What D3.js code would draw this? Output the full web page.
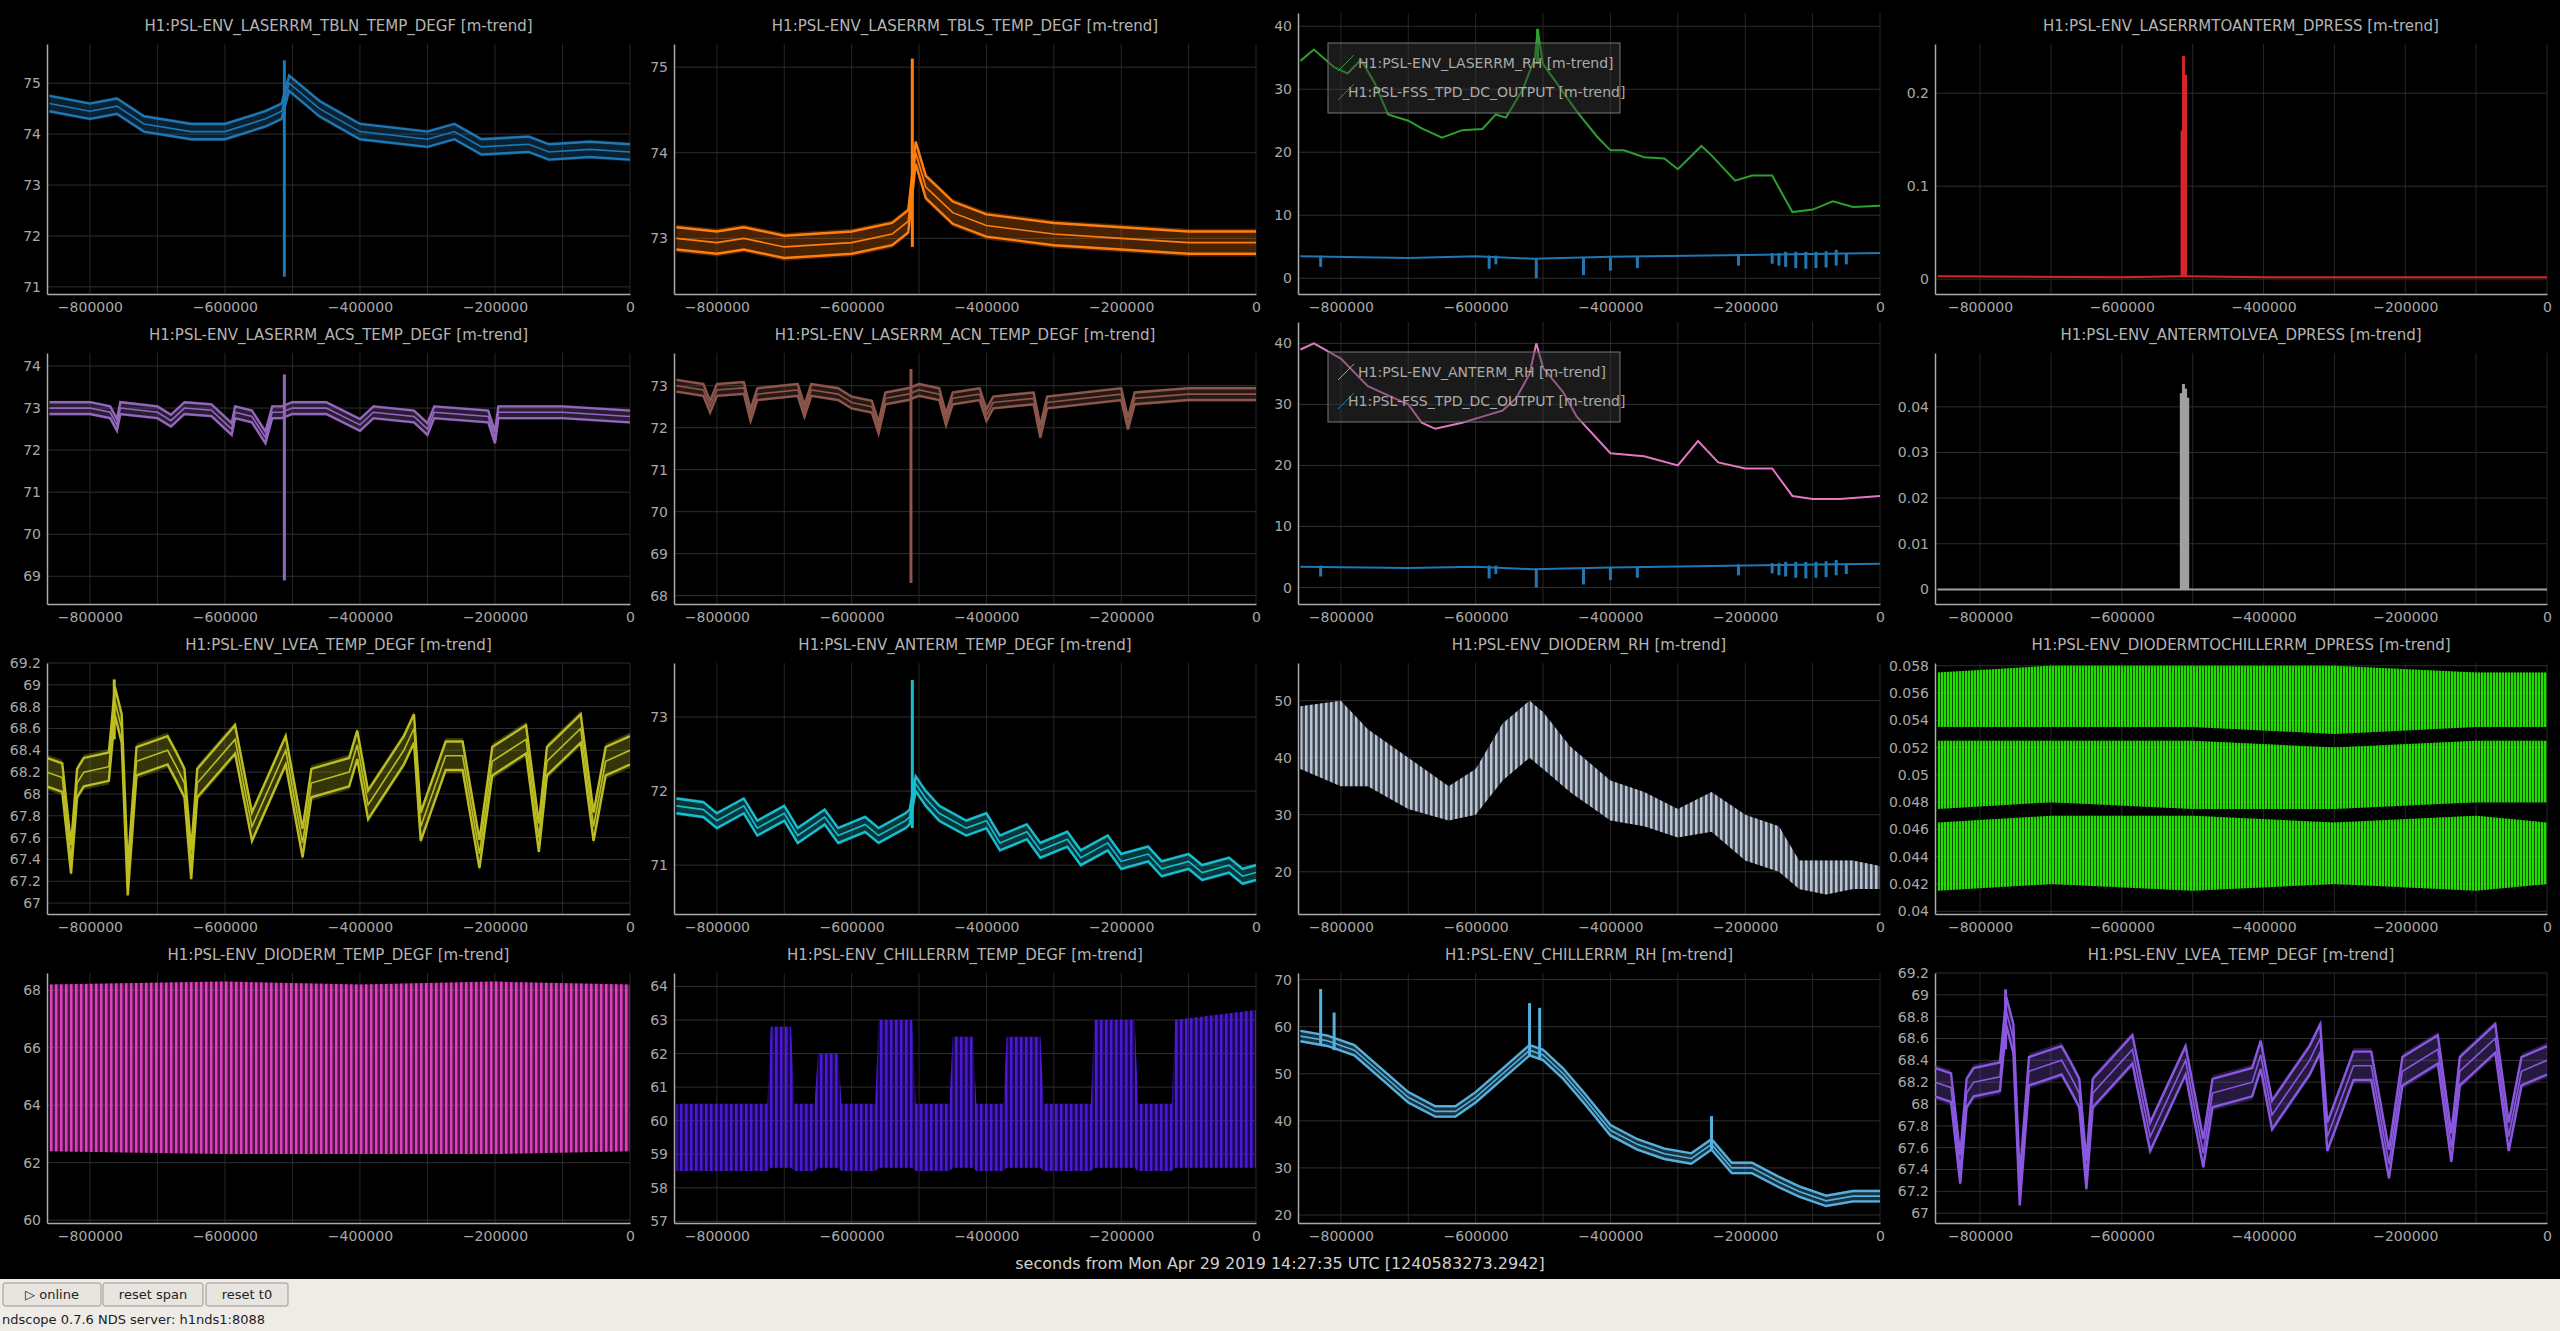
<!DOCTYPE html>
<html><head><meta charset="utf-8">
<script src="https://cdn.jsdelivr.net/npm/d3@7"></script>
<style>
body{margin:0;background:#000;overflow:hidden;font-family:"DejaVu Sans",sans-serif}
</style></head><body>
<svg id="c" width="2560" height="1331"></svg>
<script>
// ---------- DATA (x in seconds/1000) ----------
const tblnX=[-860,-800,-760,-720,-650,-600,-540,-516,-505,-460,-400,-300,-260,-220,-150,-120,-60,0];
const tblnMean=[74.6,74.45,74.55,74.2,74.05,74.05,74.3,74.45,75.0,74.5,74.05,73.9,74.05,73.75,73.8,73.65,73.7,73.65];
const tblnSpikes=[[-512,71.2,75.45]];
const tblsX=[-860,-800,-760,-700,-600,-540,-516,-505,-490,-450,-400,-300,-200,-100,0];
const tblsMean=[73.0,72.95,73.0,72.9,72.95,73.05,73.2,74.0,73.6,73.3,73.15,73.05,73.0,72.95,72.95];
const tblsSpikes=[[-510,72.9,75.1]];
const lrhX=[-860,-840,-810,-790,-770,-750,-730,-700,-680,-650,-620,-590,-570,-555,-530,-512,-508,-500,-480,-450,-420,-400,-380,-350,-320,-300,-265,-250,-215,-190,-160,-130,-100,-70,-40,0];
const lrhMean=[34.5,36.3,33.5,32.5,34.7,31,26,25,23.8,22.3,23.5,23.7,26,25.5,30,35,39.5,34,31,26.5,22.5,20.3,20.3,19.2,19,17.3,21,19.5,15.5,16.3,16.3,10.5,10.9,12.2,11.3,11.5];
const lrhSpikes=[[-508,34,39.6]];
const tpdX=[-860,-700,-600,-515,-400,-200,0];
const tpdMean=[3.5,3.2,3.5,3.1,3.4,3.7,4.0];
const tpdSpikes=[[-830,1.8,3.6],[-580,1.5,3.6],[-570,2.2,3.6],[-510,0,3.1],[-440,0.5,3.2],[-400,1.2,3.3],[-360,1.6,3.5],[-210,2,3.8],[-160,2.3,4],[-150,2,4],[-140,1.8,4.2],[-125,1.6,4.2],[-110,1.5,4.2],[-95,1.6,4.2],[-80,1.7,4.3],[-65,2,4.5],[-50,2.2,4]];
const l2aX=[-860,-600,-516,-508,-400,-200,0];
const l2aMean=[0.003,0.002,0.003,0.003,0.002,0.002,0.002];
const l2aSpikes=[[-513,0.003,0.24],[-510,0.003,0.22],[-515,0.003,0.16]];
const acsX=[-860,-800,-770,-760,-755,-700,-680,-660,-620,-590,-585,-560,-540,-530,-516,-500,-450,-400,-380,-320,-300,-290,-210,-200,-195,-100,0];
const acsMean=[73.0,73.0,72.9,72.6,73.0,72.9,72.7,73.0,72.95,72.5,72.9,72.8,72.3,72.9,72.9,73.0,73.0,72.6,72.9,72.8,72.5,72.9,72.8,72.3,72.9,72.9,72.8];
const acsSpikes=[[-512,68.9,73.8]];
const acnX=[-860,-820,-810,-800,-760,-750,-740,-680,-670,-660,-620,-600,-570,-560,-550,-516,-500,-470,-460,-450,-410,-400,-390,-330,-320,-310,-200,-190,-180,-100,0];
const acnMean=[73.0,72.9,72.5,72.9,72.95,72.3,72.8,72.9,72.4,72.9,72.8,72.6,72.5,72.0,72.7,72.8,72.9,72.8,72.2,72.7,72.8,72.3,72.6,72.7,71.9,72.6,72.8,72.1,72.7,72.8,72.8];
const acnSpikes=[[-512,68.3,73.4]];
const arhX=[-860,-840,-800,-760,-720,-700,-680,-660,-620,-590,-560,-540,-520,-510,-500,-470,-450,-400,-350,-300,-270,-240,-200,-160,-130,-100,-60,0];
const arhMean=[39,40,37.5,33,31,30,27,26,27,28,29,31,35,40,36,32,28,22,21.5,20,24,20.5,19.5,19.5,15,14.5,14.5,15];
const tpd2Mean=[3.4,3.2,3.4,3.0,3.3,3.6,3.9];
const a2lX=[-860,-600,-518,-506,-400,0];
const a2lMean=[0,0,0,0,0,0];
const a2lSpikes=[[-516,0,0.043],[-513,0,0.045],[-510,0,0.044],[-507,0,0.042]];
const lveaX=[-864,-841,-828,-819,-809,-772,-763,-753,-744,-731,-685,-672,-660,-650,-641,-585,-560,-510,-485,-472,-416,-404,-388,-335,-320,-310,-273,-248,-223,-204,-154,-135,-123,-73,-54,-36,0];
const lveaMean=[68.2,68.15,67.4,68.1,68.2,68.25,68.85,68.6,67.2,68.3,68.4,68.25,68.1,67.35,68.1,68.5,67.7,68.4,67.55,68.1,68.2,68.45,67.9,68.4,68.6,67.7,68.35,68.35,67.45,68.3,68.5,67.6,68.3,68.6,67.7,68.3,68.4];
const lveaSpikes=[[-764,68.5,69.05]];
const antX=[-860,-820,-800,-760,-740,-700,-680,-640,-620,-580,-560,-520,-514,-505,-490,-470,-430,-400,-380,-340,-320,-280,-260,-220,-200,-160,-140,-100,-80,-40,-20,0];
const antMean=[71.8,71.75,71.6,71.8,71.5,71.7,71.4,71.65,71.4,71.55,71.4,71.6,71.65,72.1,71.9,71.7,71.5,71.6,71.3,71.45,71.2,71.35,71.1,71.3,71.05,71.15,70.95,71.05,70.9,71.0,70.85,70.9];
const antSpikes=[[-510,71.5,73.5]];
const drhX=[-860,-800,-760,-700,-640,-600,-560,-520,-500,-460,-400,-350,-300,-250,-200,-150,-120,-80,-40,0];
const drhLo=[38,35,35,31,29,30,36,40,38,34,29,28,26,27,22,20,17,16,17,17];
const drhHi=[49,50,45,40,35,38,46,50,48,42,36,34,31,34,30,28,22,22,22,21];
const dpX=[-860,-700,-500,-300,-100,0];
const dpLo1=[0.0535,0.0535,0.0535,0.053,0.0535,0.0535];
const dpHi1=[0.0575,0.058,0.058,0.058,0.0575,0.0575];
const dpLo2=[0.0475,0.048,0.0475,0.0475,0.048,0.048];
const dpHi2=[0.0525,0.0525,0.0525,0.052,0.0525,0.0525];
const dpLo3=[0.0415,0.042,0.0415,0.042,0.0415,0.042];
const dpHi3=[0.0465,0.047,0.047,0.0465,0.047,0.0465];
const dtX=[-860,-600,-400,-200,0];
const dtLo=[62.4,62.3,62.3,62.3,62.4];
const dtHi=[68.2,68.3,68.2,68.3,68.2];
const chX=[-860,-725,-720,-690,-685,-655,-650,-620,-615,-565,-560,-510,-505,-455,-450,-420,-415,-375,-370,-320,-315,-245,-240,-180,-175,-125,-120,0];
const chLo=[58.5,58.5,58.6,58.6,58.5,58.5,58.6,58.6,58.5,58.5,58.6,58.6,58.5,58.5,58.6,58.6,58.5,58.5,58.6,58.6,58.5,58.5,58.6,58.6,58.5,58.5,58.6,58.6];
const chHi=[60.5,60.5,62.8,62.8,60.5,60.5,62,62,60.5,60.5,63,63,60.5,60.5,62.5,62.5,60.5,60.5,62.5,62.5,60.5,60.5,63,63,60.5,60.5,63,63.3];
const crhX=[-860,-820,-780,-740,-700,-660,-630,-600,-560,-520,-500,-470,-440,-400,-360,-320,-280,-250,-220,-190,-150,-120,-80,-40,0];
const crhMean=[58,57,55,50,45,42,42,45,50,55,54,50,45,38,35,33,32,35,30,30,27,25,23,24,24];
const crhSpikes=[[-830,56,68],[-810,55,63],[-520,54,65],[-505,53,64],[-250,34,41]];

const titles=["H1:PSL-ENV_LASERRM_TBLN_TEMP_DEGF [m-trend]","H1:PSL-ENV_LASERRM_TBLS_TEMP_DEGF [m-trend]",null,"H1:PSL-ENV_LASERRMTOANTERM_DPRESS [m-trend]",
"H1:PSL-ENV_LASERRM_ACS_TEMP_DEGF [m-trend]","H1:PSL-ENV_LASERRM_ACN_TEMP_DEGF [m-trend]",null,"H1:PSL-ENV_ANTERMTOLVEA_DPRESS [m-trend]",
"H1:PSL-ENV_LVEA_TEMP_DEGF [m-trend]","H1:PSL-ENV_ANTERM_TEMP_DEGF [m-trend]","H1:PSL-ENV_DIODERM_RH [m-trend]","H1:PSL-ENV_DIODERMTOCHILLERRM_DPRESS [m-trend]",
"H1:PSL-ENV_DIODERM_TEMP_DEGF [m-trend]","H1:PSL-ENV_CHILLERRM_TEMP_DEGF [m-trend]","H1:PSL-ENV_CHILLERRM_RH [m-trend]","H1:PSL-ENV_LVEA_TEMP_DEGF [m-trend]"];
const xTicks=[-800000,-600000,-400000,-200000,0];
const yTicks=[[71,72,73,74,75],[73,74,75],[0,10,20,30,40],[0,0.1,0.2],
[69,70,71,72,73,74],[68,69,70,71,72,73],[0,10,20,30,40],[0,0.01,0.02,0.03,0.04],
[67,67.2,67.4,67.6,67.8,68,68.2,68.4,68.6,68.8,69,69.2],[71,72,73],[20,30,40,50],[0.04,0.042,0.044,0.046,0.048,0.05,0.052,0.054,0.056,0.058],
[60,62,64,66,68],[57,58,59,60,61,62,63,64],[20,30,40,50,60,70],[67,67.2,67.4,67.6,67.8,68,68.2,68.4,68.6,68.8,69,69.2]];
const yDomains=[[70.86,75.77],[72.35,75.27],[-2.5,42.1],[-0.016,0.253],
[68.34,74.31],[67.8,73.78],[-2.7,43.5],[-0.0032,0.0518],
[66.9,69.2],[70.34,73.73],[12.6,56.6],[0.0398,0.0582],
[59.9,68.6],[56.95,64.4],[18.3,71.4],[66.91,69.2]];
const legend3=["H1:PSL-ENV_LASERRM_RH [m-trend]","H1:PSL-FSS_TPD_DC_OUTPUT [m-trend]"];
const legend7=["H1:PSL-ENV_ANTERM_RH [m-trend]","H1:PSL-FSS_TPD_DC_OUTPUT [m-trend]"];

const series=[
 [{t:"band",c:"#1f77b4",x:tblnX,m:tblnMean,s:0.15,sp:tblnSpikes}],
 [{t:"band",c:"#ff7f0e",x:tblsX,m:tblsMean,s:0.13,sp:tblsSpikes}],
 [{t:"line",c:"#2ca02c",x:lrhX,m:lrhMean,sp:lrhSpikes},{t:"line",c:"#1f77b4",x:tpdX,m:tpdMean,sp:tpdSpikes}],
 [{t:"line",c:"#d62728",x:l2aX,m:l2aMean,sp:l2aSpikes}],
 [{t:"band",c:"#9467bd",x:acsX,m:acsMean,s:0.14,sp:acsSpikes}],
 [{t:"band",c:"#8c564b",x:acnX,m:acnMean,s:0.14,sp:acnSpikes}],
 [{t:"line",c:"#e377c2",x:arhX,m:arhMean,sp:[]},{t:"line",c:"#1f77b4",x:tpdX,m:tpd2Mean,sp:tpdSpikes}],
 [{t:"line",c:"#a0a0a0",x:a2lX,m:a2lMean,sp:a2lSpikes}],
 [{t:"band",c:"#bcbd22",x:lveaX,m:lveaMean,s:0.13,sp:lveaSpikes}],
 [{t:"band",c:"#17becf",x:antX,m:antMean,s:0.1,sp:antSpikes}],
 [{t:"fill",c:"#b8c4d8",x:drhX,lo:drhLo,hi:drhHi}],
 [{t:"fill",c:"#22dd00",x:dpX,lo:dpLo1,hi:dpHi1},{t:"fill",c:"#22dd00",x:dpX,lo:dpLo2,hi:dpHi2},{t:"fill",c:"#22dd00",x:dpX,lo:dpLo3,hi:dpHi3}],
 [{t:"fill",c:"#e040c0",x:dtX,lo:dtLo,hi:dtHi}],
 [{t:"fill",c:"#4a18d8",x:chX,lo:chLo,hi:chHi}],
 [{t:"band",c:"#55b0dd",x:crhX,m:crhMean,s:1.1,sp:crhSpikes}],
 [{t:"band",c:"#8a58e0",x:lveaX,m:lveaMean,s:0.13,sp:lveaSpikes}]
];

// ---------- LAYOUT ----------
const svg=d3.select("#c");
svg.append("rect").attr("width",2560).attr("height",1279).attr("fill","#000");
svg.append("rect").attr("y",1279).attr("width",2560).attr("height",52).attr("fill","#efebe7");
const defs=svg.append("defs");
const colX=[[47,630],[674,1256],[1298,1880],[1935,2547]];
const rowY=[[44,294],[353,604],[663,914],[973,1223]];
const xDom=[-863600,0];

series.forEach((ser,i)=>{
  const col=i%4,row=Math.floor(i/4);
  const [x0,x1]=colX[col];let [y0,y1]=rowY[row];
  if(!titles[i]) y0-=31;
  const x=d3.scaleLinear().domain(xDom).range([x0,x1]);
  const y=d3.scaleLinear().domain(yDomains[i]).range([y1,y0]);
  const g=svg.append("g");
  const cid="clip"+i;
  defs.append("clipPath").attr("id",cid).append("rect").attr("x",x0).attr("y",y0).attr("width",x1-x0).attr("height",y1-y0);
  d3.range(-800000,1,100000).forEach(v=>g.append("line").attr("x1",x(v)).attr("x2",x(v)).attr("y1",y0).attr("y2",y1).attr("stroke","#262626"));
  yTicks[i].forEach(v=>g.append("line").attr("x1",x0).attr("x2",x1).attr("y1",y(v)).attr("y2",y(v)).attr("stroke","#2e2e2e"));
  if(titles[i]) g.append("text").attr("x",(x0+x1)/2).attr("y",y0-13).attr("text-anchor","middle").attr("fill","#b4b4b4").attr("font-size",15).text(titles[i]);
  const xa=g.append("g").attr("transform",`translate(0,${y1})`).call(d3.axisBottom(x).tickValues(xTicks).tickFormat(d3.format("d")).tickSize(0).tickPadding(8));
  const ya=g.append("g").attr("transform",`translate(${x0},0)`).call(d3.axisLeft(y).tickValues(yTicks[i]).tickFormat(d=>String(+d.toFixed(4))).tickSize(0).tickPadding(6));
  [xa,ya].forEach(a=>{a.select(".domain").attr("stroke","#aaa").attr("stroke-width",1.5);a.selectAll("text").attr("fill","#a8a8a8").attr("font-size",14).attr("font-family","DejaVu Sans");});
  const pg=g.append("g").attr("clip-path",`url(#${cid})`);
  ser.forEach((s,k)=>{
    const pts=s.x.map((v,j)=>j);
    if(s.t==="fill"){
      const pid=`pat${i}_${k}`;
      const p=defs.append("pattern").attr("id",pid).attr("patternUnits","userSpaceOnUse").attr("width",i===11?3:5).attr("height",10);
      p.append("rect").attr("width",i===11?2:2.5).attr("height",10).attr("fill",s.c);
      const ar=d3.area().x(j=>x(s.x[j]*1000)).y0(j=>y(s.lo[j])).y1(j=>y(s.hi[j]));
      pg.append("path").attr("d",ar(pts)).attr("fill",s.c).attr("opacity",0.35);
      pg.append("path").attr("d",ar(pts)).attr("fill",`url(#${pid})`);
    } else if(s.t==="band"){
      const ar=d3.area().x(j=>x(s.x[j]*1000)).y0(j=>y(s.m[j]-s.s*1.25)).y1(j=>y(s.m[j]+s.s*1.25));
      pg.append("path").attr("d",ar(pts)).attr("fill",s.c).attr("opacity",0.28);
      [-1,0,1].forEach(o=>{
        const ln=d3.line().x(j=>x(s.x[j]*1000)).y(j=>y(s.m[j]+o*s.s));
        pg.append("path").attr("d",ln(pts)).attr("fill","none").attr("stroke",s.c).attr("stroke-width",o===0?1.6:2.4);
      });
    } else {
      const ln=d3.line().x(j=>x(s.x[j]*1000)).y(j=>y(s.m[j]));
      pg.append("path").attr("d",ln(pts)).attr("fill","none").attr("stroke",s.c).attr("stroke-width",2);
    }
    (s.sp||[]).forEach(d=>pg.append("line").attr("x1",x(d[0]*1000)).attr("x2",x(d[0]*1000)).attr("y1",y(d[1])).attr("y2",y(d[2])).attr("stroke",s.c).attr("stroke-width",3));
  });
  const leg=i===2?legend3:i===6?legend7:null;
  if(leg){
    const lg=g.append("g").attr("transform",`translate(${x0+30},${y0+30})`);
    lg.append("rect").attr("width",292).attr("height",70).attr("fill","#3a3a3a").attr("fill-opacity",0.45).attr("stroke","#777");
    leg.forEach((t,k)=>{
      const yy=20+k*29;
      lg.append("line").attr("x1",10).attr("x2",26).attr("y1",yy+8).attr("y2",yy-8).attr("stroke",ser[k].c);
      lg.append("text").attr("x",k?20:30).attr("y",yy+5).attr("fill","#aaa").attr("font-size",14).text(t);
    });
  }
});
svg.append("text").attr("x",1280).attr("y",1269).attr("text-anchor","middle").attr("fill","#d0d0d0").attr("font-size",16).text("seconds from Mon Apr 29 2019 14:27:35 UTC [1240583273.2942]");
const btns=[["▷ online",3,98],["reset span",103,100],["reset t0",206,82]];
btns.forEach(b=>{
  svg.append("rect").attr("x",b[1]).attr("y",1283).attr("width",b[2]).attr("height",23).attr("rx",2).attr("fill","#e8e5e1").attr("stroke","#9a9690");
  svg.append("text").attr("x",b[1]+b[2]/2).attr("y",1299).attr("text-anchor","middle").attr("font-size",13).attr("fill","#222").text(b[0]);
});
svg.append("text").attr("x",2).attr("y",1324).attr("font-size",13).attr("fill","#222").text("ndscope 0.7.6    NDS server: h1nds1:8088");
</script></body></html>
